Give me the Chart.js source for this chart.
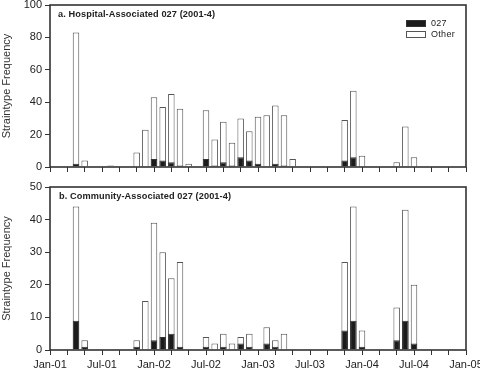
<!DOCTYPE html>
<html>
<head>
<meta charset="utf-8">
<script src="https://cdn.jsdelivr.net/npm/chart.js@4/dist/chart.umd.min.js"></script>
<style>
  body { margin: 0; background: #fff; }
  .wrap { position: relative; width: 480px; height: 370px; font-family: 'Liberation Sans', Arial, sans-serif; }
  canvas { position: absolute; left: 0; }
  .ptitle { position: absolute; font-size: 9.2px; font-weight: bold; color: #222; white-space: nowrap; line-height: 10px; letter-spacing: 0.1px; }
  .legend { position: absolute; left: 406px; top: 18px; font-size: 9px; color: #222; line-height: 11px; letter-spacing: 0.3px; }
  .legend div { height: 11px; white-space: nowrap; }
  .legend span { display: inline-block; width: 20px; height: 7px; box-sizing: border-box; vertical-align: middle; margin-right: 5px; }
</style>
</head>
<body>
<div class="wrap">
  <canvas id="hosp" width="480" height="180" style="top:0"></canvas>
  <canvas id="comm" width="480" height="190" style="top:180px"></canvas>
  <div class="ptitle" style="left:58px; top:9px">a. Hospital-Associated 027 (2001-4)</div>
  <div class="ptitle" style="left:59px; top:191px">b. Community-Associated 027 (2001-4)</div>
  <div class="legend" id="legend"></div>
</div>
<script>
// months counted from Jan-01 (0) to Jan-05 (48)
const tickLabels = ['Jan-01', 'Jul-01', 'Jan-02', 'Jul-02', 'Jan-03', 'Jul-03', 'Jan-04', 'Jul-04', 'Jan-05']

const hospMonths = [3, 4, 7, 10, 11, 12, 13, 14, 15, 16, 18, 19, 20, 21, 22, 23, 24, 25, 26, 27, 28, 34, 35, 36, 40, 41, 42]
const hospTotal  = [83, 4, 1, 9, 23, 43, 37, 45, 36, 2, 35, 17, 28, 15, 30, 22, 31, 32, 38, 32, 5, 29, 47, 7, 3, 25, 6]
const hosp027    = [2, 0, 0, 0, 0, 5, 4, 3, 1, 0, 5, 1, 3, 1, 6, 4, 2, 0, 2, 1, 0, 4, 6, 0, 0, 0, 0]

const commMonths = [3, 4, 10, 11, 12, 13, 14, 15, 18, 19, 20, 21, 22, 23, 25, 26, 27, 34, 35, 36, 40, 41, 42]
const commTotal  = [44, 3, 3, 15, 39, 30, 22, 27, 4, 2, 5, 2, 4, 5, 7, 3, 5, 27, 44, 6, 13, 43, 20]
const comm027    = [9, 1, 1, 0, 3, 4, 5, 1, 1, 0, 1, 0, 2, 1, 2, 1, 0, 6, 9, 1, 3, 9, 2]

const seriesLabels = ['027', 'Other']
const fillColors = ['#1c1c1c', '#ffffff']
const edgeColors = ['#333333', '#555555']

Chart.defaults.font.family = "'Liberation Sans', Arial, sans-serif"
Chart.defaults.color = '#222'

const frame = {
    id: 'frame',
    afterDraw(chart) {
        const a = chart.chartArea
        const ctx = chart.ctx
        ctx.save()
        ctx.strokeStyle = '#333'
        ctx.lineWidth = 1.6
        ctx.strokeRect(a.left, a.top, a.right - a.left, a.bottom - a.top)
        ctx.restore()
    }
}

function makeChart(id, months, total, c027, yMax, yStep, showLabels, padTop, xHeight) {
    const ds = (vals, i) => ({
        label: seriesLabels[i],
        data: months.map((m, k) => ({ x: m, y: vals[k] })),
        backgroundColor: fillColors[i],
        borderColor: edgeColors[i],
        borderWidth: 1,
        grouped: false,
        order: i + 1,
        barPercentage: 0.75,
        categoryPercentage: 1
    })

    return new Chart(document.getElementById(id), {
        type: 'bar',
        data: { datasets: [ds(c027, 0), ds(total, 1)] },
        options: {
            responsive: false,
            animation: false,
            devicePixelRatio: 1,
            layout: { padding: { top: padTop, right: 14, left: 0, bottom: 0 } },
            plugins: { legend: { display: false }, tooltip: { enabled: false } },
            scales: {
                x: {
                    type: 'linear',
                    min: 0,
                    max: 48,
                    offset: false,
                    grid: { offset: false, drawOnChartArea: false, tickLength: 5, color: '#333' },
                    border: { display: false },
                    ticks: {
                        stepSize: 2,
                        autoSkip: false,
                        maxRotation: 0,
                        padding: 3,
                        font: { size: 11 },
                        callback: v => (showLabels && v % 6 === 0) ? tickLabels[v / 6] : ''
                    },
                    afterFit: s => { s.height = xHeight; s.paddingLeft = 0; s.paddingRight = 0 }
                },
                y: {
                    min: 0,
                    max: yMax,
                    grid: { drawOnChartArea: false, tickLength: 5, color: '#333' },
                    border: { display: false },
                    ticks: { stepSize: yStep, padding: 3, font: { size: 11 } },
                    title: { display: true, text: 'Straintype Frequency', font: { size: 11 }, color: '#333', padding: { top: 0, bottom: 0 } },
                    afterFit: s => { s.width = 50; s.paddingTop = 0; s.paddingBottom = 0 }
                }
            }
        },
        plugins: [frame]
    })
}

makeChart('hosp', hospMonths, hospTotal, hosp027, 100, 20, false, 5, 13)
makeChart('comm', commMonths, commTotal, comm027, 50, 10, true, 7, 20)

const legend = document.getElementById('legend')
seriesLabels.forEach((name, i) => {
    const row = document.createElement('div')
    const box = document.createElement('span')
    box.style.background = fillColors[i]
    box.style.border = '1px solid ' + edgeColors[i]
    row.appendChild(box)
    row.appendChild(document.createTextNode(name))
    legend.appendChild(row)
})
</script>
</body>
</html>
